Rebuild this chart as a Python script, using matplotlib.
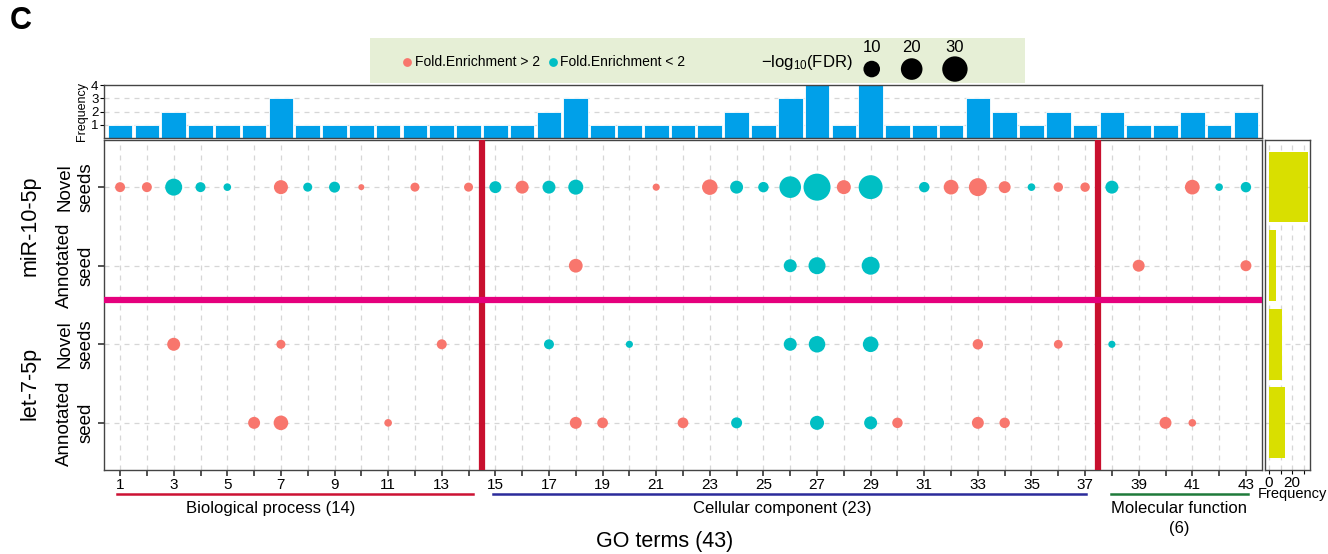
import numpy as np
import matplotlib.pyplot as plt
import matplotlib.transforms as mtransforms

plt.rcParams['font.family'] = ['Liberation Sans', 'DejaVu Sans']
plt.rcParams['mathtext.fontset'] = 'custom'
plt.rcParams['mathtext.rm'] = 'Liberation Sans'
plt.rcParams['mathtext.it'] = 'Liberation Sans'

# GO term frequency across the four seed groups (top histogram)
go_terms = np.arange(1, 44)
term_freq = [1, 1, 2, 1, 1, 1, 3, 1, 1, 1, 1, 1, 1, 1, 1, 1, 2, 3, 1, 1, 1, 1,
             1, 2, 1, 3, 4, 1, 4, 1, 1, 1, 3, 2, 1, 2, 1, 2, 1, 1, 2, 1, 2]

# rows, top to bottom
row_labels = ['Novel\nseeds', 'Annotated\nseed', 'Novel\nseeds', 'Annotated\nseed']
row_freq = [34, 6, 11, 14]

# per row: GO term, -log10(FDR), fold enrichment > 2 ?
mir_novel_terms = [1, 2, 3, 4, 5, 7, 8, 9, 10, 12, 14, 15, 16, 17, 18, 21, 23, 24, 25, 26,
                   27, 28, 29, 31, 32, 33, 34, 35, 36, 37, 38, 41, 42, 43]
mir_novel_fdr = [2.7, 2.7, 10.7, 2.7, 1.7, 6.4, 2.2, 3.4, 1.5, 2.2, 2.2, 4.2, 5.2, 5.2, 7.7, 1.6,
                 8.4, 5.2, 3.0, 20, 35, 6.4, 26, 3.0, 7.3, 12.4, 4.2, 1.7, 2.4, 2.4, 5.2, 7.3, 1.7, 3.0]
mir_novel_high = [1, 1, 0, 0, 0, 1, 0, 0, 1, 1, 1, 0, 1, 0, 0, 1, 1, 0, 0, 0,
                  0, 1, 0, 0, 1, 1, 1, 0, 1, 1, 0, 1, 0, 0]

mir_annot_terms = [18, 26, 27, 29, 39, 43]
mir_annot_fdr = [6.1, 5.2, 10.7, 12.4, 4.2, 3.4]
mir_annot_high = [1, 0, 0, 0, 1, 1]

let7_novel_terms = [3, 7, 13, 17, 20, 26, 27, 29, 33, 36, 38]
let7_novel_fdr = [5.2, 2.2, 2.7, 2.7, 1.6, 5.2, 9.9, 8.5, 3.0, 2.1, 1.6]
let7_novel_high = [1, 1, 1, 0, 0, 0, 0, 0, 1, 1, 0]

let7_annot_terms = [6, 7, 11, 18, 19, 22, 24, 27, 29, 30, 33, 34, 40, 41]
let7_annot_fdr = [4.2, 7.1, 1.7, 4.2, 3.2, 3.2, 3.4, 6.4, 5.2, 3.0, 4.2, 3.0, 4.2, 1.7]
let7_annot_high = [1, 1, 1, 1, 1, 1, 0, 0, 0, 1, 1, 1, 1, 1]

categories = ['Biological process (14)', 'Cellular component (23)', 'Molecular function\n(6)']
cat_ranges = [(0.89, 14.17), (14.92, 37.04), (37.98, 43.09)]
cat_label_x = [6.63, 25.7, 40.5]
cat_colors = ['#cc1133', '#2b2b9b', '#1f7a3a']

RED = '#F8766D'
TEAL = '#00BFC4'
GRID = '#d6d6d6'


def dot_size(v):
    d = 6 + 21 * np.sqrt(np.clip((np.asarray(v, float) - 1.5) / 33.5, 0, 1))
    return (d * 0.72) ** 2


W, H = 1328, 554
fig = plt.figure(figsize=(W / 100, H / 100), dpi=100)


def box(x0, y0, x1, y1):
    return [x0 / W, 1 - y1 / H, (x1 - x0) / W, (y1 - y0) / H]


ax = fig.add_axes(box(104, 140, 1262, 470))
ax_top = fig.add_axes(box(104, 85, 1262, 138), sharex=ax)
ax_r = fig.add_axes(box(1265, 140, 1310, 470), sharey=ax)
ax_leg = fig.add_axes(box(370, 38, 1025, 83))

# main dot plot
rows = [(mir_novel_terms, mir_novel_fdr, mir_novel_high),
        (mir_annot_terms, mir_annot_fdr, mir_annot_high),
        (let7_novel_terms, let7_novel_fdr, let7_novel_high),
        (let7_annot_terms, let7_annot_fdr, let7_annot_high)]
row_y = [4, 3, 2, 1]
for (terms, fdr, high), y in zip(rows, row_y):
    cols = [RED if h else TEAL for h in high]
    ax.scatter(terms, [y] * len(terms), s=dot_size(fdr), c=cols, linewidths=0, zorder=3)

for x in go_terms:
    ax.axvline(x, color=GRID, lw=0.9, ls=(0, (4, 4)), zorder=0)
for y in row_y:
    ax.axhline(y, color=GRID, lw=0.9, ls=(0, (4, 4)), zorder=0)
ax.axvline(14.5, color='#c8102e', lw=4.5, zorder=4)
ax.axvline(37.5, color='#c8102e', lw=4.5, zorder=4)
ax.axhline(2.56, color='#e5007d', lw=4.5, zorder=5)

ax.set_xlim(0.4, 43.6)
ax.set_ylim(0.4, 4.6)
ax.set_xticks(go_terms)
ax.set_xticklabels([str(t) if t % 2 else '' for t in go_terms], fontsize=11)
ax.set_yticks(row_y)
ax.set_yticklabels(row_labels, rotation=90, va='center', ha='right',
                   multialignment='center', fontsize=13.5, linespacing=1.3)
ax.tick_params(axis='both', length=4, width=1.2, color='#333333', pad=2)
ax.tick_params(axis='y', pad=3)
for s in ax.spines.values():
    s.set_color('#444444')
    s.set_linewidth(1.0)

trans = mtransforms.blended_transform_factory(ax.transData, ax.transAxes)
for (x0, x1), col in zip(cat_ranges, cat_colors):
    ax.plot([x0, x1], [-0.073, -0.073], color=col, lw=1.8, transform=trans, clip_on=False)
for name, x in zip(categories, cat_label_x):
    ax.text(x, -0.094, name, transform=trans, ha='center', va='top', fontsize=12,
            linespacing=1.45)

fig.text(665 / W, 1 - 541 / H, 'GO terms (43)', ha='center', va='center', fontsize=15.5)
fig.text(30 / W, 1 - 226 / H, 'miR-10-5p', rotation=90, ha='center', va='center', fontsize=15.5)
fig.text(30 / W, 1 - 383 / H, 'let-7-5p', rotation=90, ha='center', va='center', fontsize=15.5)
fig.text(10 / W, 1 - 6 / H, 'C', ha='left', va='top', fontsize=22, fontweight='bold')

# top frequency histogram
ax_top.bar(go_terms, term_freq, width=0.92, color='#00a0e9', edgecolor='white', lw=0.6, zorder=2)
ax_top.set_ylim(0, 4)
ax_top.set_yticks([1, 2, 3, 4])
ax_top.tick_params(axis='y', labelsize=9.5, length=3, pad=1)
ax_top.tick_params(axis='x', bottom=False, labelbottom=False)
for y in [1, 2, 3]:
    ax_top.axhline(y, color=GRID, lw=0.9, ls=(0, (4, 4)), zorder=0)
ax_top.set_ylabel('Frequency', fontsize=9, labelpad=2)
for s in ax_top.spines.values():
    s.set_color('#444444')
    s.set_linewidth(1.0)

# right frequency bars
ax_r.barh(row_y, row_freq, height=0.9, color='#d9df00', zorder=2)
ax_r.set_xlim(-3.5, 35.5)
ax_r.set_xticks([0, 10, 20, 30])
ax_r.set_xticklabels(['0', '', '20', ''], fontsize=11)
ax_r.tick_params(axis='x', length=3, pad=1)
ax_r.tick_params(axis='y', left=False, labelleft=False)
for x in [0, 10, 20, 30]:
    ax_r.axvline(x, color=GRID, lw=0.9, ls=(0, (4, 4)), zorder=0)
for y in row_y:
    ax_r.axhline(y, color=GRID, lw=0.9, ls=(0, (4, 4)), zorder=0)
for s in ax_r.spines.values():
    s.set_color('#444444')
    s.set_linewidth(1.0)
fig.text(1292 / W, 1 - 494 / H, 'Frequency', ha='center', va='center', fontsize=10.5)

# legend box
ax_leg.set_facecolor('#e6efd6')
ax_leg.set_xlim(0, 1)
ax_leg.set_ylim(0, 1)
ax_leg.set_xticks([])
ax_leg.set_yticks([])
for s in ax_leg.spines.values():
    s.set_visible(False)
ax_leg.scatter([0.056], [0.47], s=40, c=RED, linewidths=0)
ax_leg.text(0.069, 0.47, 'Fold.Enrichment > 2', va='center', ha='left', fontsize=10)
ax_leg.scatter([0.279], [0.47], s=40, c=TEAL, linewidths=0)
ax_leg.text(0.29, 0.47, 'Fold.Enrichment < 2', va='center', ha='left', fontsize=10)
ax_leg.text(0.667, 0.45, r'$\mathregular{-log_{10}(FDR)}$', va='center', ha='center', fontsize=12)
leg_vals = [10, 20, 30]
leg_x = [0.766, 0.827, 0.893]
ax_leg.scatter(leg_x, [0.31] * 3, s=dot_size(leg_vals), c='black', linewidths=0)
for x, v in zip(leg_x, leg_vals):
    ax_leg.text(x, 0.78, str(v), ha='center', va='center', fontsize=12)

fig.savefig('out.png', dpi=100)
